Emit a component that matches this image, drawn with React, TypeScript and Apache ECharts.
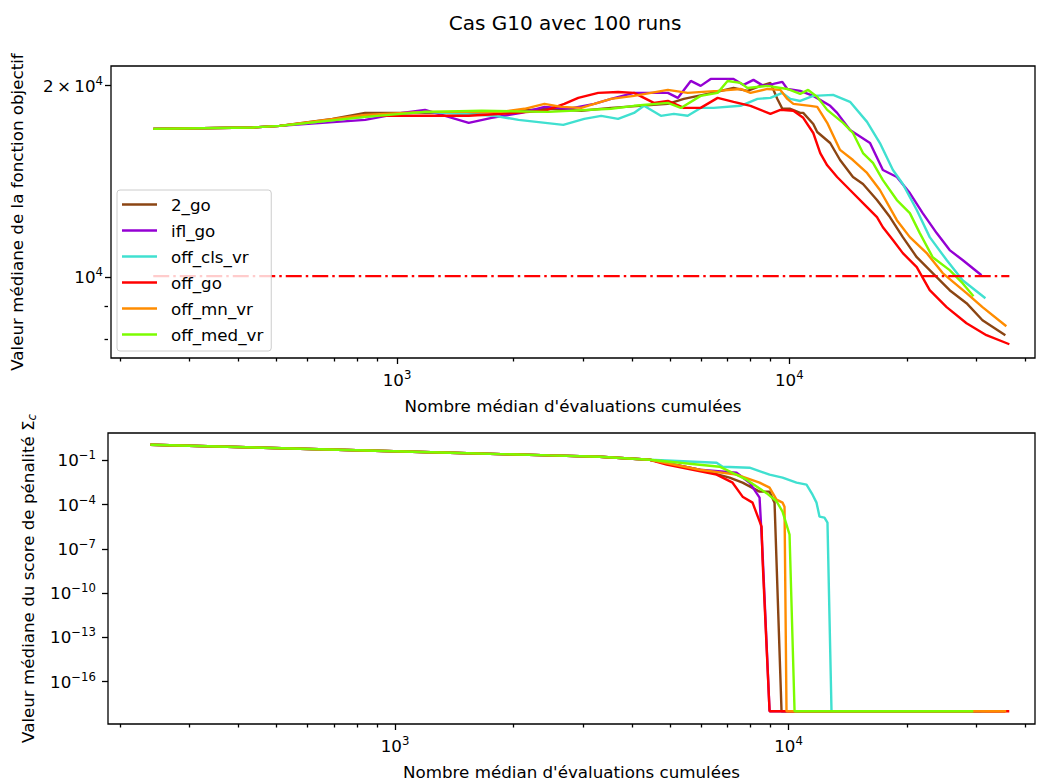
import React, { useEffect, useRef } from "react";
import * as echarts from "echarts";

const seriesNames = ["2_go", "ifl_go", "off_cls_vr", "off_go", "off_mn_vr", "off_med_vr"];
const seriesColors = ["#8B4513", "#9400D3", "#40E0D0", "#FF0000", "#FF8C00", "#7CFC00"];

// ---- top plot: objective value ----
const goX2 = [239, 428, 502, 684, 829, 1030, 1523, 1847, 2432, 2948, 3513, 4902, 5383, 6194, 7209, 7823, 8441, 8950, 9322, 9599, 10060, 10660, 10850, 11510, 11780, 12710, 13470, 14530, 15410, 16730, 18050, 19470, 21130, 23200, 25630, 28300, 31080, 35540];
const goY2 = [17110, 17200, 17300, 17740, 18130, 18130, 18130, 18200, 18400, 18270, 18460, 18730, 19070, 19420, 19840, 19630, 19990, 20210, 19070, 18400, 18400, 18130, 18130, 17420, 16920, 16260, 15290, 14380, 14020, 13230, 12440, 11570, 10760, 10160, 9550, 9112, 8568, 8117];

const iflX = [239, 428, 502, 829, 1030, 1178, 1523, 1742, 2076, 2375, 2733, 3182, 3513, 4018, 4902, 5197, 5607, 5943, 6303, 7209, 7642, 8102, 8590, 9108, 9599, 9883, 10660, 11510, 12710, 13240, 14280, 16060, 17320, 18800, 20290, 21880, 23750, 25630, 27650, 30900];
const iflY = [17110, 17200, 17300, 17680, 18130, 18330, 17490, 17810, 18130, 18530, 18400, 18730, 19070, 19490, 19490, 19140, 20350, 19990, 20500, 20500, 20060, 20430, 19990, 20130, 20280, 19770, 19630, 19280, 18600, 18130, 17040, 16260, 14750, 14380, 13570, 12620, 11740, 11040, 10650, 10080];

const clsX = [239, 428, 502, 829, 1178, 1773, 2040, 2653, 3000, 3314, 3660, 4018, 4261, 4705, 5077, 5508, 5943, 6414, 7509, 8295, 8950, 9599, 10060, 10660, 11510, 12930, 14280, 15780, 17020, 18370, 19470, 21130, 22800, 25180, 27650, 31620];
const clsY = [17110, 17200, 17300, 17870, 18200, 17940, 17680, 17360, 17740, 17940, 17740, 18130, 18600, 17940, 18070, 17940, 18460, 18460, 18600, 19070, 19140, 19490, 19070, 18930, 19280, 19350, 18870, 17550, 16260, 14750, 14020, 12760, 11570, 10650, 9900, 9278];

const offGoX = [239, 428, 502, 684, 829, 1030, 1523, 1993, 2375, 2669, 2897, 3257, 3660, 4018, 4261, 4516, 4902, 5383, 5943, 6566, 7209, 7962, 8950, 9489, 10240, 10850, 11510, 11990, 12490, 13240, 14280, 15780, 16730, 17320, 18370, 19470, 21130, 22800, 25180, 28300, 31810, 36390];
const offGoY = [17110, 17200, 17300, 17680, 17940, 17940, 17940, 18130, 18270, 18730, 19140, 19490, 19550, 19490, 19140, 18800, 18930, 18460, 18460, 19140, 18870, 18600, 18070, 18330, 18270, 17810, 16860, 15680, 15000, 14380, 13720, 12900, 12440, 11990, 11450, 10920, 10380, 9550, 8982, 8475, 8117, 7855];

const mnX = [239, 428, 502, 829, 1178, 1847, 2113, 2375, 2624, 2948, 3182, 3513, 4018, 4902, 5508, 6566, 7509, 7962, 8794, 9489, 9883, 10240, 11310, 11780, 12490, 13470, 14530, 15780, 17020, 18800, 20290, 22400, 24600, 28300, 31080, 35750];
const mnY = [17110, 17200, 17300, 18000, 18200, 18200, 18400, 18730, 18530, 18460, 18730, 19070, 19280, 19700, 19490, 19630, 19770, 19490, 19770, 19700, 19070, 18730, 18600, 18530, 17490, 15860, 15290, 14590, 13720, 12300, 11570, 10920, 10160, 9447, 8982, 8384];

const medX = [239, 428, 502, 829, 1178, 1644, 2432, 3513, 4018, 4902, 5290, 5943, 6566, 6960, 7509, 7823, 8794, 9883, 10660, 11170, 11780, 12490, 13710, 14530, 15410, 16340, 17320, 18800, 20290, 21510, 23200, 25630, 27650, 29480];
const medY = [17110, 17200, 17300, 17870, 18200, 18270, 18200, 18400, 18600, 18800, 18460, 19280, 19490, 20350, 20210, 19840, 19990, 19770, 19420, 19700, 19210, 18330, 17490, 16860, 15680, 15130, 14220, 13230, 12620, 11740, 10760, 10270, 9795, 9345];

const thresholdX = [239, 36390];
const thresholdY = [10050, 10050];

// ---- bottom plot: penalty score ----
const goPX2 = [239, 574, 1379, 2475, 3314, 4438, 5943, 7083, 7642, 8441, 8950, 9215, 9599, 35540];
const goPY2 = [1.16, 0.62, 0.33, 0.218, 0.178, 0.111, 0.0234, 0.00675, 0.00309, 7.6e-4, 7.6e-4, 1.37e-4, 1e-18, 1e-18];

const iflPX = [239, 574, 1379, 2475, 3314, 4438, 5943, 7379, 7962, 8441, 8590, 8950, 30900];
const iflPY = [1.16, 0.62, 0.33, 0.218, 0.178, 0.111, 0.0234, 0.0147, 0.00309, 2.99e-4, 5.6e-8, 1e-18, 1e-18];

const clsPX = [239, 574, 1379, 2475, 3314, 4438, 6566, 6800, 7962, 8950, 9656, 10480, 11110, 11510, 11780, 11990, 12340, 12560, 12860, 31620];
const clsPY = [1.16, 0.62, 0.33, 0.218, 0.178, 0.111, 0.0698, 0.0374, 0.032, 0.0108, 0.00675, 0.00309, 0.00226, 4.76e-4, 1.37e-4, 1.54e-5, 1.32e-5, 6.05e-6, 1e-18, 1e-18];

const offGoPX = [239, 574, 1379, 2475, 3314, 4438, 4902, 6566, 7209, 7642, 8102, 8541, 8590, 8950, 36390];
const offGoPY = [1.16, 0.62, 0.33, 0.218, 0.178, 0.111, 0.0512, 0.0108, 0.00309, 3.48e-4, 1.37e-4, 3.24e-6, 1.9e-8, 1e-18, 1e-18];

const mnPX = [239, 574, 1379, 2475, 3314, 4438, 5943, 7379, 8441, 8950, 9322, 9656, 9768, 9883, 35750];
const mnPY = [1.16, 0.62, 0.33, 0.218, 0.178, 0.111, 0.0234, 0.0108, 0.00309, 0.00142, 2.18e-4, 1.37e-4, 7.3e-5, 1e-18, 1e-18];

const medPX = [239, 574, 1379, 2475, 3314, 4438, 6682, 7823, 8794, 9322, 9656, 10060, 10360, 29480];
const medPY = [1.16, 0.62, 0.33, 0.218, 0.178, 0.111, 0.0374, 0.00493, 6e-4, 1.7e-4, 3.4e-5, 9.3e-7, 1e-18, 1e-18];

// ---- axes ----
const xRange = [186.5, 42300];
const yTopRange = [7474, 21480];
const yBottomRange = [1.36e-19, 7.2];
const xMajorTicks = [1000, 10000];
const xMinorTicks = [200, 300, 400, 500, 600, 700, 800, 900, 2000, 3000, 4000, 5000, 6000, 7000, 8000, 9000, 20000, 30000, 40000];
const yTopLabelTicks = [10000, 20000];
const yTopMinorTicks = [8000, 9000];
const yBottomTicks = [1e-1, 1e-4, 1e-7, 1e-10, 1e-13, 1e-16];

const FONT = "DejaVu Sans";
const FS = 16.7;
const LW = 2.4;
const lg = (v: number) => Math.log10(v);
const pairs = (xs: number[], ys: number[]) => xs.map((x, i) => [lg(x), lg(ys[i])]);

const rich = {
  b: { fontSize: FS, fontFamily: FONT, color: "#000", lineHeight: 22 },
  e: { fontSize: FS * 0.7, fontFamily: FONT, color: "#000", verticalAlign: "top", lineHeight: 13 },
};
const sup = (mant: string, exp: number) => `{b|${mant}10}{e|${exp < 0 ? "\u2212" + -exp : exp}}`;

const tickLine = { color: "#000", width: 1.3 };
const noLine = { show: false, onZero: false };

function makeOption() {
  const topData = [pairs(goX2, goY2), pairs(iflX, iflY), pairs(clsX, clsY), pairs(offGoX, offGoY), pairs(mnX, mnY), pairs(medX, medY)];
  const botData = [pairs(goPX2, goPY2), pairs(iflPX, iflPY), pairs(clsPX, clsPY), pairs(offGoPX, offGoPY), pairs(mnPX, mnPY), pairs(medPX, medPY)];

  const nameStyle = { fontSize: FS, fontFamily: FONT, color: "#000" };
  const xMajorAxis = (gridIndex: number) => ({
    type: "value",
    gridIndex,
    position: "bottom",
    min: lg(xRange[0]),
    max: lg(xRange[1]),
    axisLine: noLine,
    splitLine: { show: false },
    axisTick: { show: true, customValues: xMajorTicks.map(lg), length: 6, lineStyle: tickLine },
    axisLabel: {
      customValues: xMajorTicks.map(lg),
      formatter: (v: number) => sup("", Math.round(v)),
      rich,
      margin: 11,
    },
    name: "Nombre médian d'évaluations cumulées",
    nameLocation: "middle",
    nameGap: 39,
    nameTextStyle: nameStyle,
  });
  const xMinorAxis = (gridIndex: number) => ({
    type: "value",
    gridIndex,
    position: "bottom",
    min: lg(xRange[0]),
    max: lg(xRange[1]),
    axisLine: noLine,
    splitLine: { show: false },
    axisTick: { show: true, customValues: xMinorTicks.map(lg), length: 3.5, lineStyle: tickLine },
    axisLabel: { show: false },
  });

  const series: any[] = [];
  seriesNames.forEach((name, i) => {
    series.push({
      name,
      type: "line",
      xAxisIndex: 0,
      yAxisIndex: 0,
      data: topData[i],
      symbol: "none",
      showSymbol: false,
      lineStyle: { color: seriesColors[i], width: LW },
      itemStyle: { color: seriesColors[i] },
      z: 2 + i * 0.01,
    });
  });
  series.push({
    name: "seuil",
    type: "line",
    xAxisIndex: 0,
    yAxisIndex: 0,
    data: pairs(thresholdX, thresholdY),
    symbol: "none",
    lineStyle: { color: "#FF0000", width: LW, type: [16, 4, 2.5, 4] },
    z: 2.1,
  });
  seriesNames.forEach((name, i) => {
    series.push({
      name,
      type: "line",
      xAxisIndex: 1,
      yAxisIndex: 1,
      data: botData[i],
      symbol: "none",
      showSymbol: false,
      lineStyle: { color: seriesColors[i], width: LW },
      itemStyle: { color: seriesColors[i] },
      z: 2 + i * 0.01,
    });
  });

  return {
    animation: false,
    backgroundColor: "#fff",
    textStyle: { fontFamily: FONT },
    grid: [
      { left: 108, top: 66, width: 927, height: 292, show: true, borderColor: "#000", borderWidth: 1.3, backgroundColor: "transparent" },
      { left: 108, top: 433, width: 927, height: 291, show: true, borderColor: "#000", borderWidth: 1.3, backgroundColor: "transparent" },
      { left: 108, top: 66, width: 927, height: 292, show: false },
      { left: 108, top: 433, width: 927, height: 291, show: false },
    ],
    xAxis: [xMajorAxis(0), xMajorAxis(1), xMinorAxis(2), xMinorAxis(3)],
    yAxis: [
      {
        type: "value",
        gridIndex: 0,
        position: "left",
        min: lg(yTopRange[0]),
        max: lg(yTopRange[1]),
        axisLine: noLine,
        splitLine: { show: false },
        axisTick: { show: true, customValues: yTopLabelTicks.map(lg), length: 6, lineStyle: tickLine },
        axisLabel: {
          customValues: yTopLabelTicks.map(lg),
          formatter: (v: number) => (Math.abs(v - lg(20000)) < 1e-6 ? sup("2\u2009\u00d7\u2009", 4) : sup("", Math.round(v))),
          rich,
          margin: 8,
        },
        name: "Valeur médiane de la fonction objectif",
        nameLocation: "middle",
        nameRotate: 90,
        nameGap: 86,
        nameTextStyle: nameStyle,
      },
      {
        type: "value",
        gridIndex: 1,
        position: "left",
        min: lg(yBottomRange[0]),
        max: lg(yBottomRange[1]),
        axisLine: noLine,
        splitLine: { show: false },
        axisTick: { show: true, customValues: yBottomTicks.map(lg), length: 6, lineStyle: tickLine },
        axisLabel: {
          customValues: yBottomTicks.map(lg),
          formatter: (v: number) => sup("", Math.round(v)),
          rich,
          margin: 12,
        },
        name: "{t|Valeur médiane du score de pénalité Σ}{s|c}",
        nameLocation: "middle",
        nameRotate: 90,
        nameGap: 70,
        nameTextStyle: {
          ...nameStyle,
          rich: {
            t: { fontSize: FS, fontFamily: FONT, color: "#000", lineHeight: 20 },
            s: { fontSize: FS * 0.7, fontFamily: FONT, fontStyle: "italic", color: "#000", verticalAlign: "bottom", lineHeight: 12 },
          },
        },
      },
      {
        type: "value",
        gridIndex: 2,
        position: "left",
        min: lg(yTopRange[0]),
        max: lg(yTopRange[1]),
        axisLine: noLine,
        splitLine: { show: false },
        axisTick: { show: true, customValues: yTopMinorTicks.map(lg), length: 3.5, lineStyle: tickLine },
        axisLabel: { show: false },
      },
      {
        type: "value",
        gridIndex: 3,
        position: "left",
        min: lg(yBottomRange[0]),
        max: lg(yBottomRange[1]),
        axisLine: noLine,
        splitLine: { show: false },
        axisTick: { show: false },
        axisLabel: { show: false },
      },
    ],
    legend: {
      data: seriesNames,
      orient: "vertical",
      left: 117,
      top: 190,
      padding: [6, 8, 8, 5],
      icon: "rect",
      itemWidth: 35,
      itemHeight: 2.5,
      itemGap: 9,
      backgroundColor: "rgba(255,255,255,0.8)",
      borderColor: "#cccccc",
      borderWidth: 1,
      borderRadius: 3,
      selectedMode: false,
      textStyle: { fontSize: FS, fontFamily: FONT, color: "#000", padding: [0, 0, 0, 9] },
    },
    graphic: [
      {
        type: "text",
        x: 565,
        y: 23,
        style: {
          text: "Cas G10 avec 100 runs",
          fontSize: 20,
          fontFamily: FONT,
          fill: "#000",
          align: "center",
          verticalAlign: "middle",
          textAlign: "center",
          textVerticalAlign: "middle",
        },
      },
    ],
    series,
  };
}

export default function App() {
  const ref = useRef<HTMLDivElement>(null);
  useEffect(() => {
    if (!ref.current) return;
    const chart = echarts.init(ref.current, null, { renderer: "svg" });
    chart.setOption(makeOption() as any);
    return () => chart.dispose();
  }, []);
  return (
    <div
      ref={ref}
      style={{ position: "fixed", left: 0, top: 0, width: 1044, height: 783, background: "#fff" }}
    />
  );
}
